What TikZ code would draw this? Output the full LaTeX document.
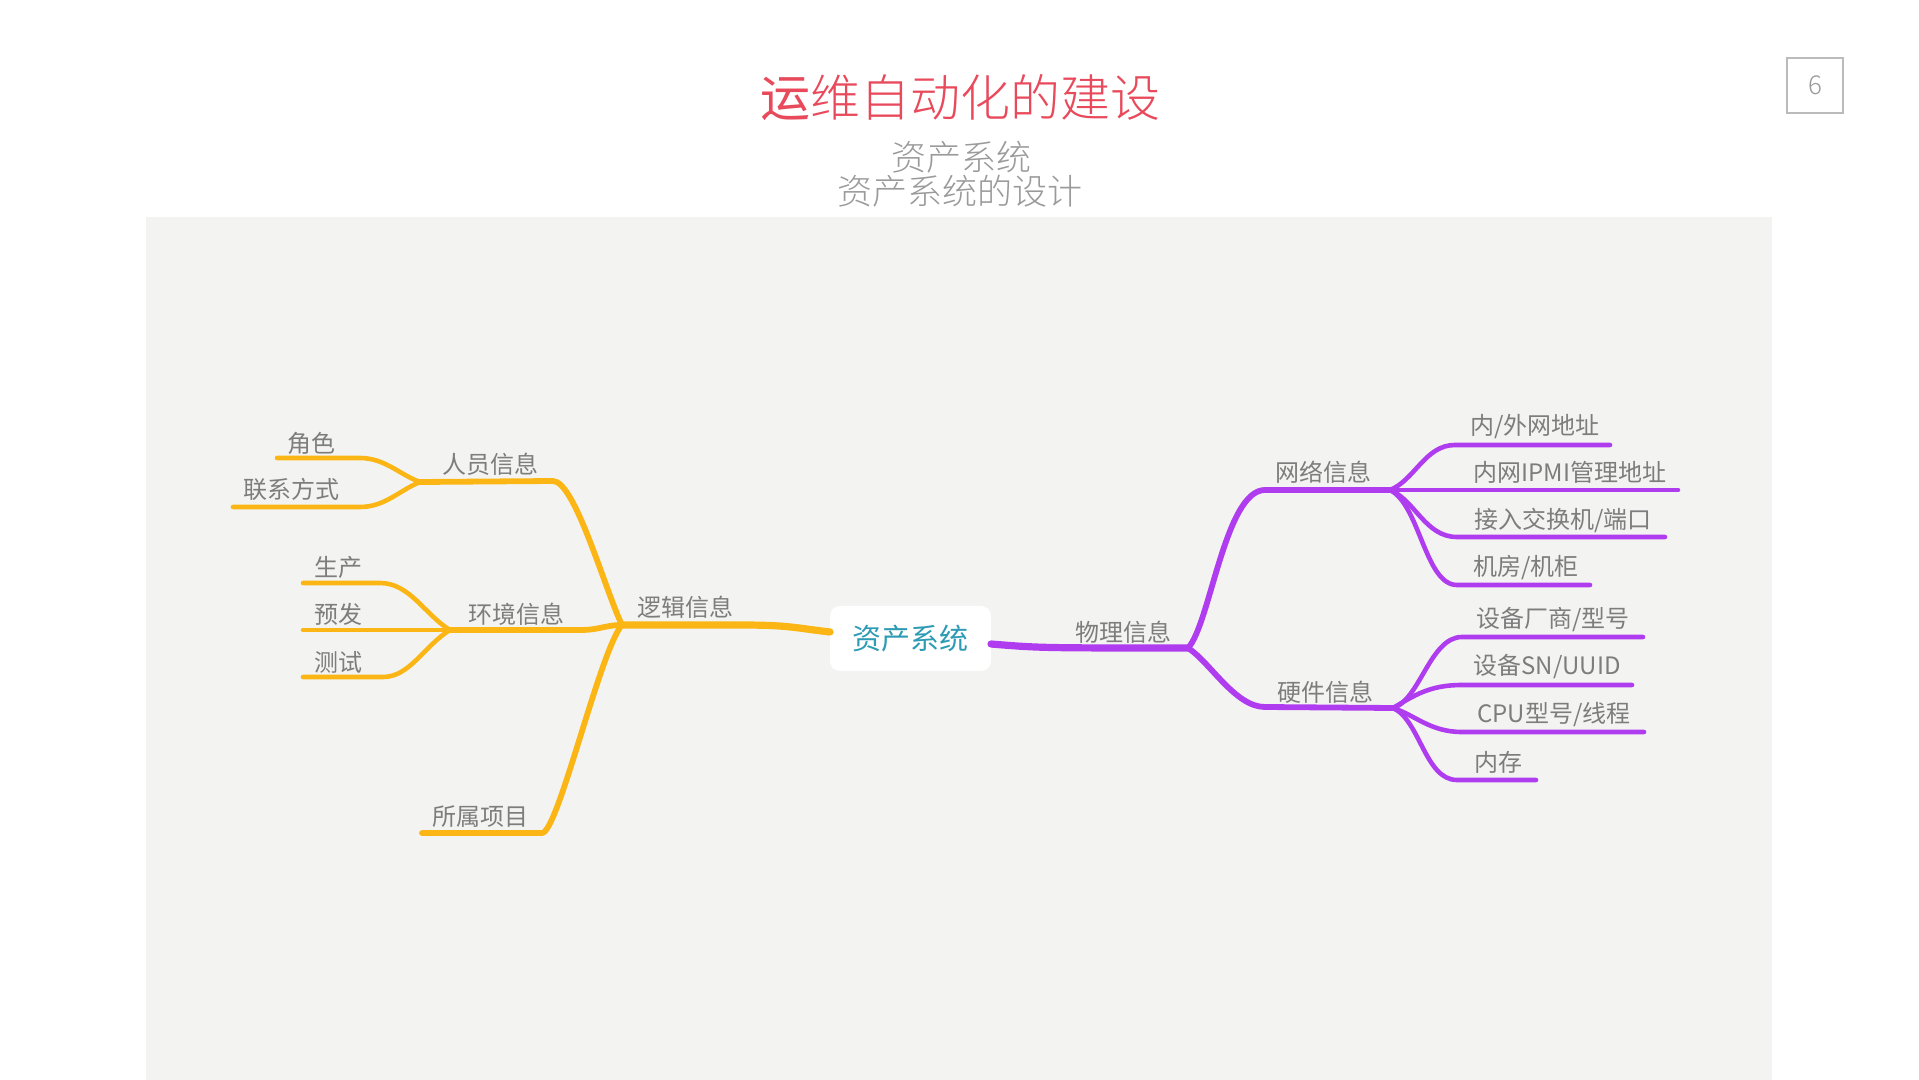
\documentclass[tikz,border=0pt]{standalone}
\usepackage{fontspec}
\setmainfont{Noto Sans CJK SC}
\newfontfamily\lightcjk{Noto Sans CJK SC Light}
\usetikzlibrary{calc}
\definecolor{panel}{HTML}{F3F4F2}
\definecolor{org}{HTML}{FBB615}
\definecolor{pur}{HTML}{AF3CEE}
\definecolor{ttl}{HTML}{E84A5C}
\definecolor{txt}{HTML}{7D7D7D}
\definecolor{tealc}{HTML}{2E9BB4}
\definecolor{subc}{HTML}{9A9A9A}
\definecolor{boxc}{HTML}{BBBBBB}
\begin{document}
\begin{tikzpicture}[x=0.5pt,y=-0.5pt,
  lbl/.style={text=txt, font=\fontsize{12}{14}\selectfont, inner sep=0pt, anchor=center},
  trunk/.style={line width=3.6pt, line cap=round, line join=round},
  mid/.style={line width=2.9pt, line cap=round, line join=round},
  leaf/.style={line width=2.3pt, line cap=round, line join=round}]
\useasboundingbox (0,0) rectangle (1919,1080);
\fill[white] (0,0) rectangle (1919,1080);
\fill[panel] (146,217) rectangle (1772,1080);

% title area
\node[text=ttl, font=\fontsize{25}{29}\selectfont, inner sep=0pt] (title) at (960,98) {运{\lightcjk 维自动化的建设}};
\node[text=subc, font=\lightcjk\fontsize{17.5}{20}\selectfont, inner sep=0pt] (sub1) at (961,157) {资产系统};
\node[text=subc, font=\lightcjk\fontsize{17.5}{20}\selectfont, inner sep=0pt] (sub2) at (960,191) {资产系统的设计};
\node[draw=boxc, line width=0.8pt, minimum width=28pt, minimum height=27.5pt, inner sep=0pt, text=subc, font=\lightcjk\fontsize{13}{15}\selectfont] (page) at (1815,85.5) {6};

% center
\node[fill=white, rounded corners=5pt, minimum width=80.5pt, minimum height=32.5pt, inner sep=0pt, text=tealc, font=\fontsize{14.5}{17}\selectfont] (root) at (910.5,638.5) {资产系统};

% coordinates
\coordinate (rootL) at (830,632);
\coordinate (rootR) at (991,644);
\coordinate (J1) at (622,625);
\coordinate (Jry) at (420,482);
\coordinate (Jenv) at (450,630);
\coordinate (J2) at (1188,648);
\coordinate (Jnet) at (1390,490);
\coordinate (Jhw) at (1393,708);

% orange branches
\draw[org, trunk] (rootL) .. controls (795,628) and (790,625) .. (740,625) -- (J1);
\draw[org, mid] (J1) .. controls (605,590) and (575,481) .. (553,481) -- (Jry);
\draw[org, mid] (J1) .. controls (605,625) and (600,630) .. (580,630) -- (Jenv);
\draw[org, mid] (J1) .. controls (600,650) and (558,833) .. (542,833) -- (422,833);
\draw[org, leaf] (Jry) .. controls (400,475) and (385,458) .. (360,458) -- (277,458);
\draw[org, leaf] (Jry) .. controls (400,490) and (385,507) .. (360,507) -- (233,507);
\draw[org, leaf] (Jenv) .. controls (425,615) and (410,583) .. (380,583) -- (303,583);
\draw[org, leaf] (Jenv) -- (303,630);
\draw[org, leaf] (Jenv) .. controls (425,645) and (410,677) .. (383,677) -- (303,677);

% purple branches
\draw[pur, trunk] (rootR) .. controls (1040,648) .. (J2);
\draw[pur, mid] (J2) .. controls (1210,625) and (1225,490) .. (1265,490) -- (Jnet);
\draw[pur, mid] (J2) .. controls (1210,662) and (1235,707) .. (1265,707) -- (Jhw);
\draw[pur, leaf] (Jnet) .. controls (1415,480) and (1425,445) .. (1455,445) -- (1610,445);
\draw[pur, leaf] (Jnet) -- (1678,490);
\draw[pur, leaf] (Jnet) .. controls (1415,500) and (1425,537) .. (1457,537) -- (1665,537);
\draw[pur, leaf] (Jnet) .. controls (1420,505) and (1425,585) .. (1457,585) -- (1590,585);
\draw[pur, leaf] (Jhw) .. controls (1420,700) and (1430,637) .. (1462,637) -- (1643,637);
\draw[pur, leaf] (Jhw) .. controls (1415,695) and (1430,685) .. (1462,685) -- (1632,685);
\draw[pur, leaf] (Jhw) .. controls (1415,715) and (1430,732) .. (1462,732) -- (1644,732);
\draw[pur, leaf] (Jhw) .. controls (1420,720) and (1425,780) .. (1457,780) -- (1536,780);

% labels
\node[lbl] (luoji) at (685,607) {逻辑信息};
\node[lbl] (renyuan) at (490,464) {人员信息};
\node[lbl] (juese) at (311,443) {角色};
\node[lbl] (lianxi) at (291,489) {联系方式};
\node[lbl] (huanjing) at (516,614) {环境信息};
\node[lbl] (shengchan) at (338,567) {生产};
\node[lbl] (yufa) at (338,614) {预发};
\node[lbl] (ceshi) at (338,662) {测试};
\node[lbl] (suoshu) at (480,817) {所属项目};
\node[lbl] (wuli) at (1123,632) {物理信息};
\node[lbl] (wangluo) at (1323,472) {网络信息};
\node[lbl] (yingjian) at (1325,692) {硬件信息};
\node[lbl] (neiwai) at (1535,427) {内/外网地址};
\node[lbl] (ipmi) at (1570,472) {内网IPMI管理地址};
\node[lbl] (jieru) at (1563,520) {接入交换机/端口};
\node[lbl] (jifang) at (1526,568) {机房/机柜};
\node[lbl] (changshang) at (1553,620) {设备厂商/型号};
\node[lbl] (sn) at (1547,667) {设备SN/UUID};
\node[lbl] (cpu) at (1554,715) {CPU型号/线程};
\node[lbl] (neicun) at (1498,762) {内存};
\end{tikzpicture}
\end{document}
